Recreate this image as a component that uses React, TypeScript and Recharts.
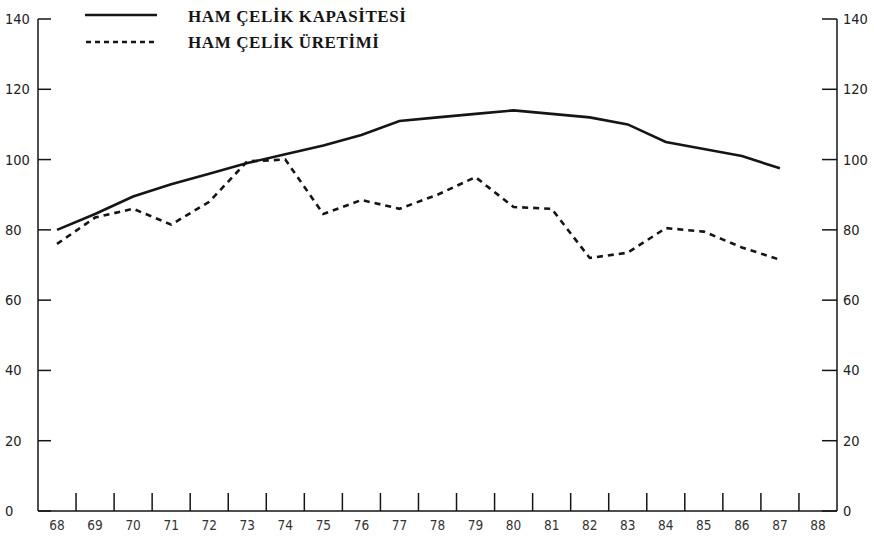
import { ComposedChart, Line, XAxis, YAxis, Legend } from 'recharts';

// years on the x axis (19xx)
const years = [68, 69, 70, 71, 72, 73, 74, 75, 76, 77, 78, 79, 80, 81, 82, 83, 84, 85, 86, 87, 88];
// HAM ÇELİK KAPASİTESİ
const capacity = [80, 84.5, 89.5, 93, 96, 99, 101.5, 104, 107, 111, 112, 113, 114, 113, 112, 110, 105, 103, 101, 97.5];
// HAM ÇELİK ÜRETİMİ
const production = [76, 83.5, 86, 81.5, 88, 99.5, 100, 84.5, 88.5, 86, 90, 95, 86.5, 86, 72, 73.5, 80.5, 79.5, 75, 71.5];
const yTicks = [0, 20, 40, 60, 80, 100, 120, 140];

const data = capacity.map((v, i) => ({ year: years[i], kap: v, ur: production[i] }));
const xTicks = [...years, ...years.slice(0, -1).map((y) => y + 0.5)].sort((a, b) => a - b);

const INK = '#151515';
const SANS = "'DejaVu Sans Condensed', 'DejaVu Sans', sans-serif";

function XTick({ x, y, payload }: any) {
  const v = payload.value;
  if (Number.isInteger(v)) {
    return (
      <text x={x} y={y + 19} textAnchor="middle" fontSize={13.5} fill="#333" fontFamily={SANS}>
        {v}
      </text>
    );
  }
  return <line x1={x} x2={x} y1={y} y2={y - 18} stroke={INK} strokeWidth={1.5} />;
}

function LeftTick({ x, y, payload }: any) {
  return (
    <g>
      <line x1={x} x2={x + 13} y1={y} y2={y} stroke={INK} strokeWidth={1.5} />
      <text x={5} y={y + 5} textAnchor="start" fontSize={14.5} fill="#222" fontFamily={SANS}>
        {payload.value}
      </text>
    </g>
  );
}

function RightTick({ x, y, payload }: any) {
  return (
    <g>
      <line x1={x - 15} x2={x} y1={y} y2={y} stroke={INK} strokeWidth={1.5} />
      <text x={x + 6} y={y + 5} textAnchor="start" fontSize={14.5} fill="#222" fontFamily={SANS}>
        {payload.value}
      </text>
    </g>
  );
}

function LegendBox() {
  const font = "'Liberation Serif', 'Times New Roman', serif";
  return (
    <svg width={360} height={60}>
      <line x1={5} x2={77} y1={15} y2={15} stroke={INK} strokeWidth={2.5} />
      <line x1={6} x2={78} y1={42} y2={42} stroke={INK} strokeWidth={2.5} strokeDasharray="5 4" />
      <text x={108} y={22} fontSize={17} fontWeight="bold" letterSpacing={0.6} fill={INK} fontFamily={font}>
        HAM ÇELİK KAPASİTESİ
      </text>
      <text x={108} y={48} fontSize={17} fontWeight="bold" letterSpacing={0.6} fill={INK} fontFamily={font}>
        HAM ÇELİK ÜRETİMİ
      </text>
    </svg>
  );
}

export default function App() {
  return (
    <div style={{ position: 'absolute', left: 0, top: 0, background: '#fff' }}>
      <ComposedChart width={874} height={538} data={data} margin={{ top: 19, right: 0, bottom: 0, left: 0 }}>
        <XAxis
          dataKey="year"
          type="number"
          domain={[67.5, 88.5]}
          ticks={xTicks}
          interval={0}
          height={27}
          tickSize={0}
          tickMargin={0}
          tickLine={false}
          tick={<XTick />}
          axisLine={{ stroke: INK, strokeWidth: 1.5 }}
        />
        <YAxis
          yAxisId="l"
          orientation="left"
          width={38}
          domain={[0, 140]}
          ticks={yTicks}
          interval={0}
          tickSize={0}
          tickMargin={0}
          tickLine={false}
          tick={<LeftTick />}
          axisLine={{ stroke: INK, strokeWidth: 1.5 }}
        />
        <YAxis
          yAxisId="r"
          orientation="right"
          width={37}
          domain={[0, 140]}
          ticks={yTicks}
          interval={0}
          tickSize={0}
          tickMargin={0}
          tickLine={false}
          tick={<RightTick />}
          axisLine={{ stroke: INK, strokeWidth: 1.5 }}
        />
        <Legend
          layout="vertical"
          align="center"
          verticalAlign="middle"
          content={() => <LegendBox />}
          wrapperStyle={{ top: 0, left: 80, width: 360, height: 60 }}
        />
        <Line yAxisId="l" dataKey="kap" type="linear" stroke={INK} strokeWidth={2.6} dot={false} isAnimationActive={false} />
        <Line yAxisId="r" dataKey="ur" type="linear" stroke={INK} strokeWidth={2.6} strokeDasharray="6 5" dot={false} isAnimationActive={false} />
      </ComposedChart>
    </div>
  );
}
